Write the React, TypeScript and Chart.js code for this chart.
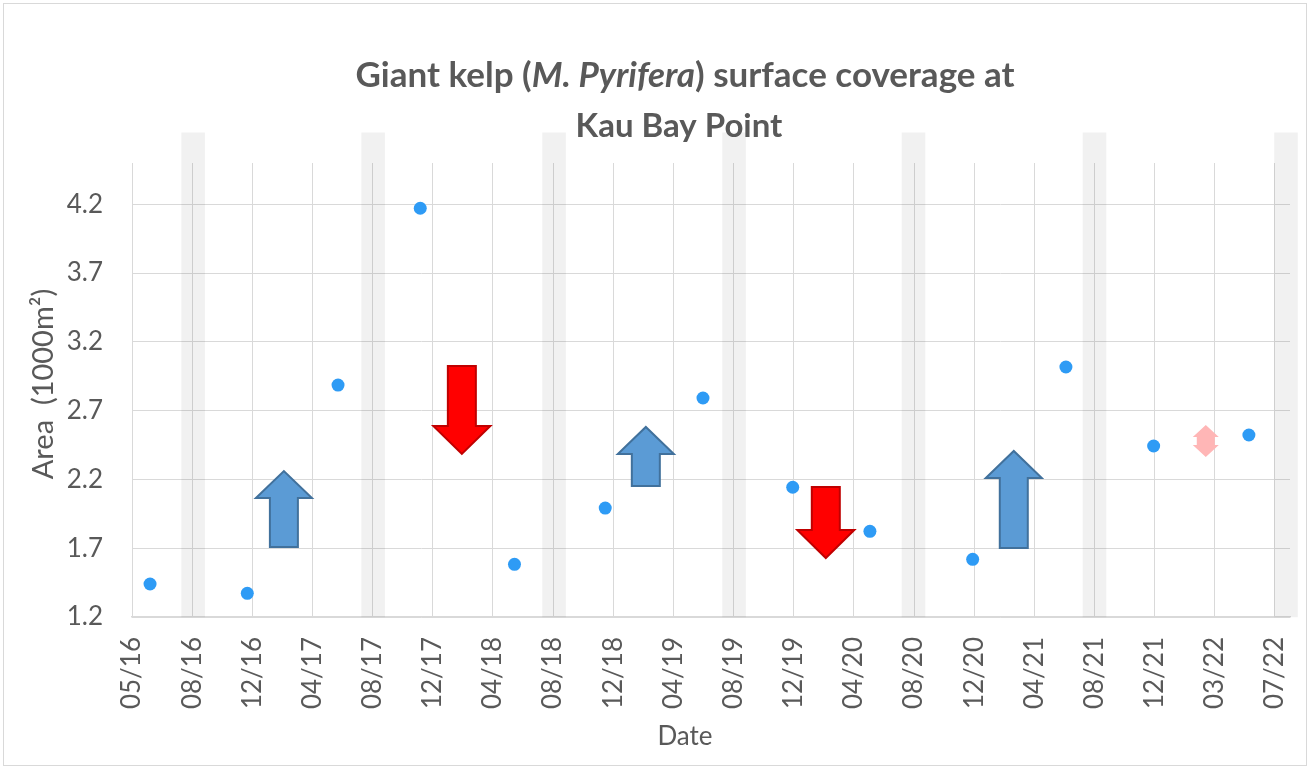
import React, { useEffect, useRef } from 'react';
import { Chart, registerables } from 'chart.js';

Chart.register(...registerables);

// x values are days counted from 1 May 2016
const xTickDays = [0, 120, 240, 360, 480, 600, 720, 840, 960, 1080, 1200, 1320, 1440, 1560, 1680, 1800, 1920, 2040, 2160, 2280];
const xTickLabels = ['05/16', '08/16', '12/16', '04/17', '08/17', '12/17', '04/18', '08/18', '12/18', '04/19', '08/19', '12/19', '04/20', '08/20', '12/20', '04/21', '08/21', '12/21', '03/22', '07/22'];
const yTickValues = [1.2, 1.7, 2.2, 2.7, 3.2, 3.7, 4.2];

const surveyDays = [36, 230, 411, 575, 763, 944, 1139, 1318, 1472, 1677, 1863, 2038, 2228];
const kelpArea = [1.44, 1.372, 2.886, 4.171, 1.583, 1.992, 2.792, 2.143, 1.823, 1.619, 3.017, 2.443, 2.523];

const summerDays = [122, 481, 842, 1201, 1559, 1920, 2302];
const summerRange = [1.2, 4.72];

// trend arrows: x (days), from (value at tail), to (value at tip), kind
const arrowX = [303, 658, 1025, 1384, 1759, 2142];
const arrowFrom = [1.709, 3.024, 2.152, 2.145, 1.702, 2.363];
const arrowTo = [2.261, 2.385, 2.581, 1.629, 2.407, 2.596];
const arrowKind = ['up', 'down', 'up', 'down', 'up', 'both'];

const X_MIN = 0;
const X_MAX = 2310;
const Y_MIN = 1.2;
const Y_MAX = 4.5;

const TEXT = '#595959';
const GRID = '#d9d9d9';
const FONT = 'Lato, "Open Sans", sans-serif';

const arrowStyle: Record<string, any> = {
  up: { fill: '#5b9bd5', stroke: '#41719c', lw: 2, halfW: 28, shaftHalf: 14, head: 27 },
  down: { fill: '#ff0000', stroke: '#c00000', lw: 2, halfW: 28.5, shaftHalf: 14, head: 28 },
  both: { fill: '#ffb6b6', stroke: null, lw: 0, halfW: 13, shaftHalf: 9, head: 12 },
};

const arrowsPlugin = {
  id: 'trendArrows',
  afterDatasetsDraw(chart: any) {
    const { ctx, scales } = chart;
    const xs = scales.x;
    const ys = scales.y;
    ctx.save();
    arrowX.forEach((xv, i) => {
      const st = arrowStyle[arrowKind[i]];
      const cx = xs.getPixelForValue(xv);
      const yA = ys.getPixelForValue(arrowFrom[i]);
      const yB = ys.getPixelForValue(arrowTo[i]);
      ctx.beginPath();
      if (arrowKind[i] === 'both') {
        const top = Math.min(yA, yB);
        const bot = Math.max(yA, yB);
        const n1 = top + st.head;
        const n2 = bot - st.head;
        ctx.moveTo(cx, top);
        ctx.lineTo(cx + st.halfW, n1);
        ctx.lineTo(cx + st.shaftHalf, n1);
        ctx.lineTo(cx + st.shaftHalf, n2);
        ctx.lineTo(cx + st.halfW, n2);
        ctx.lineTo(cx, bot);
        ctx.lineTo(cx - st.halfW, n2);
        ctx.lineTo(cx - st.shaftHalf, n2);
        ctx.lineTo(cx - st.shaftHalf, n1);
        ctx.lineTo(cx - st.halfW, n1);
        ctx.closePath();
      } else {
        const sgn = yA > yB ? 1 : -1;
        const neck = yB + sgn * st.head;
        ctx.moveTo(cx - st.shaftHalf, yA);
        ctx.lineTo(cx - st.shaftHalf, neck);
        ctx.lineTo(cx - st.halfW, neck);
        ctx.lineTo(cx, yB);
        ctx.lineTo(cx + st.halfW, neck);
        ctx.lineTo(cx + st.shaftHalf, neck);
        ctx.lineTo(cx + st.shaftHalf, yA);
        ctx.closePath();
      }
      ctx.fillStyle = st.fill;
      ctx.fill();
      if (st.stroke) {
        ctx.lineWidth = st.lw;
        ctx.strokeStyle = st.stroke;
        ctx.lineJoin = 'miter';
        ctx.stroke();
      }
    });
    ctx.restore();
  },
};

const textPlugin = {
  id: 'textLayer',
  afterDraw(chart: any) {
    const { ctx } = chart;
    ctx.save();
    // outer frame
    ctx.strokeStyle = GRID;
    ctx.lineWidth = 1;
    ctx.strokeRect(3.5, 3.5, 1303, 762);

    ctx.fillStyle = TEXT;
    ctx.textBaseline = 'alphabetic';
    ctx.textAlign = 'left';
    // title line 1 with italic species name
    const parts = [
      { t: 'Giant kelp (', f: `bold 35px ${FONT}` },
      { t: 'M. Pyrifera', f: `italic bold 35px ${FONT}` },
      { t: ') surface coverage at', f: `bold 35px ${FONT}` },
    ];
    let total = 0;
    parts.forEach((p) => { ctx.font = p.f; total += ctx.measureText(p.t).width; });
    let x = 685 - total / 2;
    parts.forEach((p) => { ctx.font = p.f; ctx.fillText(p.t, x, 87); x += ctx.measureText(p.t).width; });
    ctx.font = `bold 33px ${FONT}`;
    ctx.textAlign = 'center';
    ctx.fillText('Kau Bay Point', 679, 137);

    // x axis title
    ctx.font = `26px ${FONT}`;
    ctx.textBaseline = 'middle';
    ctx.fillText('Date', 685, 737);

    // y axis title
    ctx.translate(44, 384);
    ctx.rotate(-Math.PI / 2);
    ctx.font = `29px ${FONT}`;
    ctx.fillText('Area  (1000m²)', 0, 0);
    ctx.restore();
  },
};

export default function App() {
  const ref = useRef<HTMLCanvasElement | null>(null);

  useEffect(() => {
    if (!ref.current) return;
    const chart = new Chart(ref.current, {
      type: 'scatter',
      data: {
        datasets: [
          {
            type: 'bar',
            label: 'Summer',
            data: summerDays.map((d) => ({ x: d, y: summerRange })) as any,
            backgroundColor: 'rgba(0,0,0,0.055)',
            borderWidth: 0,
            barThickness: 23,
            clip: false as any,
            order: 2,
          } as any,
          {
            type: 'scatter',
            label: 'Surface area',
            data: surveyDays.map((d, i) => ({ x: d, y: kelpArea[i] })),
            backgroundColor: '#2e9bf5',
            borderWidth: 0,
            pointRadius: 6.5,
            pointHoverRadius: 6.5,
            order: 1,
          } as any,
        ],
      },
      options: {
        responsive: false,
        animation: false,
        devicePixelRatio: 1,
        layout: { padding: { top: 163, right: 22, left: 0, bottom: 0 } },
        plugins: {
          legend: { display: false },
          title: { display: false },
          tooltip: { enabled: false },
        },
        scales: {
          x: {
            type: 'linear',
            min: X_MIN,
            max: X_MAX,
            offset: false,
            afterBuildTicks: (s: any) => { s.ticks = xTickDays.map((v) => ({ value: v })); },
            afterFit: (s: any) => { s.height = 152; s.paddingLeft = 0; s.paddingRight = 0; },
            ticks: {
              autoSkip: false,
              minRotation: 90,
              maxRotation: 90,
              padding: 20,
              color: TEXT,
              font: { family: FONT, size: 26 },
              callback: (v: any) => xTickLabels[xTickDays.indexOf(Number(v))],
            },
            grid: { color: GRID, lineWidth: 1, drawTicks: false, offset: false },
            border: { color: GRID, width: 1.5 },
          },
          y: {
            type: 'linear',
            min: Y_MIN,
            max: Y_MAX,
            beginAtZero: false,
            afterBuildTicks: (s: any) => { s.ticks = yTickValues.map((v) => ({ value: v })); },
            afterFit: (s: any) => { s.width = 132; s.paddingTop = 0; s.paddingBottom = 0; },
            ticks: {
              padding: 29,
              color: TEXT,
              font: { family: FONT, size: 26 },
              callback: (v: any) => Number(v).toFixed(1),
            },
            grid: { color: GRID, lineWidth: 1, drawTicks: false },
            border: { display: false },
          },
        },
      } as any,
      plugins: [arrowsPlugin, textPlugin],
    });
    return () => chart.destroy();
  }, []);

  return (
    <div style={{ position: 'absolute', left: 0, top: 0, width: 1312, height: 769, background: '#fff' }}>
      <canvas ref={ref} width={1312} height={769} style={{ width: 1312, height: 769, display: 'block' }} />
    </div>
  );
}
